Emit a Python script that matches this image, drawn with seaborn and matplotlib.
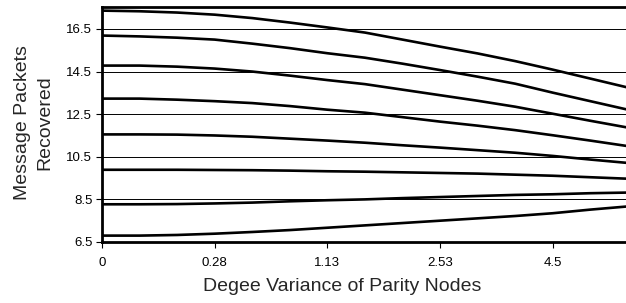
import matplotlib
matplotlib.use("Agg")
import matplotlib.pyplot as plt
import numpy as np
import pandas as pd
import seaborn as sns

# category labels on the x axis (one label every third sample)
TICK_LABELS = ["0", "0.28", "1.13", "2.53", "4.5"]
STEP = list(range(15))

# message packets recovered, one list per curve (top to bottom)
c1 = [17.36, 17.33, 17.27, 17.17, 17.01, 16.80, 16.57, 16.33, 16.00, 15.67, 15.35, 14.99, 14.59, 14.17, 13.75]
c2 = [16.19, 16.15, 16.09, 16.00, 15.81, 15.60, 15.36, 15.15, 14.87, 14.57, 14.26, 13.93, 13.51, 13.11, 12.71]
c3 = [14.78, 14.78, 14.73, 14.64, 14.50, 14.31, 14.10, 13.91, 13.65, 13.39, 13.13, 12.85, 12.52, 12.19, 11.87]
c4 = [13.23, 13.23, 13.18, 13.11, 13.02, 12.88, 12.71, 12.57, 12.36, 12.15, 11.96, 11.75, 11.51, 11.26, 11.00]
c5 = [11.55, 11.55, 11.54, 11.50, 11.44, 11.35, 11.26, 11.16, 11.04, 10.93, 10.81, 10.69, 10.54, 10.37, 10.21]
c6 = [9.89, 9.89, 9.89, 9.88, 9.87, 9.85, 9.82, 9.80, 9.77, 9.74, 9.71, 9.66, 9.61, 9.54, 9.47]
c7 = [8.27, 8.27, 8.28, 8.31, 8.35, 8.41, 8.46, 8.50, 8.56, 8.61, 8.66, 8.71, 8.74, 8.79, 8.82]
c8 = [6.80, 6.80, 6.83, 6.89, 6.97, 7.06, 7.17, 7.28, 7.39, 7.50, 7.61, 7.72, 7.85, 8.02, 8.17]
CURVES = [c1, c2, c3, c4, c5, c6, c7, c8]

Y_TICKS = [6.5, 8.5, 10.5, 12.5, 14.5, 16.5]

rows = []
for i, vals in enumerate(CURVES):
    for s, v in zip(STEP, vals):
        rows.append({"step": s, "packets": v, "curve": f"c{i + 1}"})
df = pd.DataFrame(rows)

sns.set_style("white")
plt.rcParams["font.family"] = ["Liberation Sans", "DejaVu Sans"]

fig = plt.figure(figsize=(6.26, 3.03), dpi=100)
ax = fig.add_axes([102 / 626, 1 - 242 / 303, 524 / 626, 235 / 303])

ax.yaxis.grid(True, color="black", linewidth=0.7, zorder=0)
ax.set_axisbelow(True)

sns.lineplot(data=df, x="step", y="packets", hue="curve",
             palette=["black"] * len(CURVES), legend=False,
             linewidth=1.9, ax=ax)

ax.set_xlim(0, 13.95)
ax.set_ylim(6.5, 17.53)
ax.set_yticks(Y_TICKS)
ax.set_yticklabels([f"{t:g}" for t in Y_TICKS])
ax.set_xticks(STEP[::3])
ax.set_xticklabels(TICK_LABELS)
ax.tick_params(axis="both", direction="out", length=4, width=0.8,
               colors="black", labelsize=9.5, pad=3,
               bottom=True, left=True)
ax.tick_params(axis="x", pad=7)

for side in ["top", "left", "bottom"]:
    ax.spines[side].set_linewidth(2)
    ax.spines[side].set_color("black")
ax.spines["right"].set_visible(False)

ax.set_xlabel("Degee Variance of Parity Nodes", fontsize=14)
ax.set_ylabel("Message Packets\nRecovered", fontsize=14, linespacing=1.45)
ax.xaxis.set_label_coords(0.458, -0.155)
ax.yaxis.set_label_coords(-0.092, 0.51)

fig.savefig("out.png", dpi=100)
plt.close(fig)
